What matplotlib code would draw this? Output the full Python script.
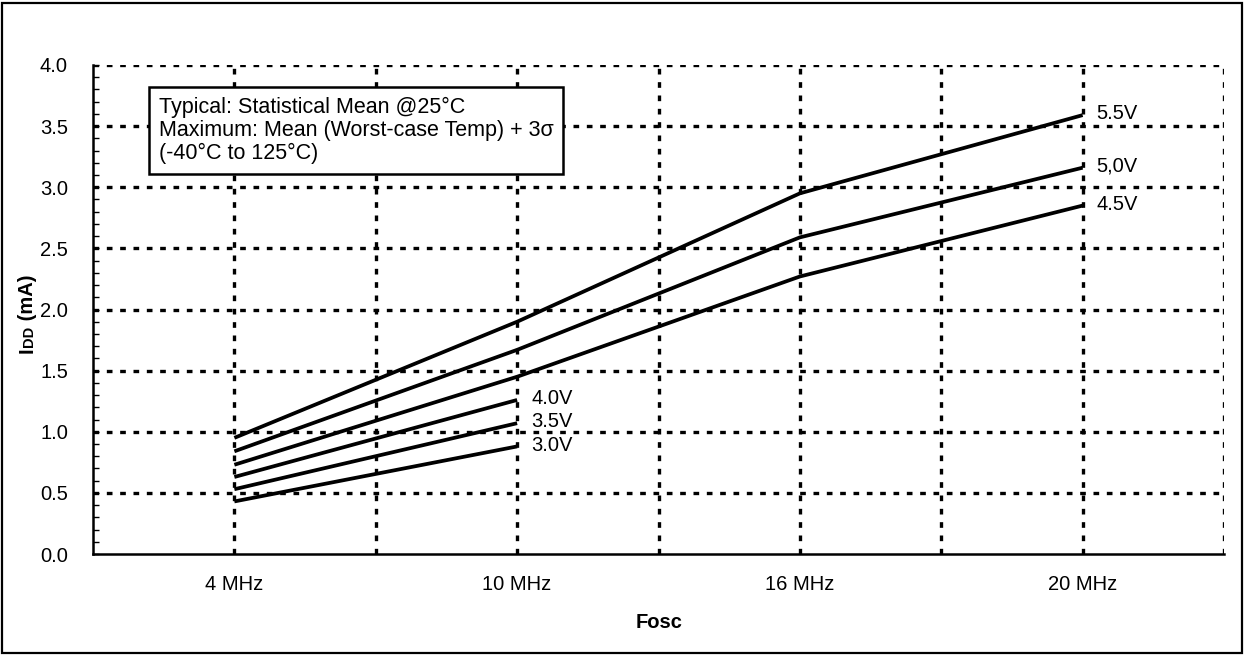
import matplotlib
matplotlib.use("Agg")
import matplotlib.pyplot as plt
from matplotlib.patches import Rectangle
from matplotlib.ticker import MultipleLocator

plt.rcParams['font.family'] = ['Liberation Sans', 'DejaVu Sans']

# datos
frecuencias = ["4 MHz", "10 MHz", "16 MHz", "20 MHz"]
curva_55 = [0.95, 1.90, 2.95, 3.59]
curva_50 = [0.84, 1.67, 2.59, 3.16]
curva_45 = [0.73, 1.45, 2.27, 2.85]
curva_40 = [0.63, 1.26]
curva_35 = [0.53, 1.07]
curva_30 = [0.43, 0.88]
etiquetas = ["5.5V", "5,0V", "4.5V", "4.0V", "3.5V", "3.0V"]
curvas = [curva_55, curva_50, curva_45, curva_40, curva_35, curva_30]

W, H = 1246, 656
fig = plt.figure(figsize=(W / 100, H / 100), dpi=100)
ax = fig.add_axes([93 / W, 102 / H, 1131 / W, 489 / H])

for curva, etiqueta in zip(curvas, etiquetas):
    xs = list(range(len(curva)))
    ax.plot(xs, curva, color='black', lw=2.7, solid_capstyle='butt')
    ax.annotate(etiqueta, (xs[-1], curva[-1]), xytext=(10, 1), textcoords='offset points',
                ha='left', va='center', fontsize=14.5)

ax.set_xlim(-0.5, 3.5)
ax.set_ylim(0, 4.0)
ax.set_xticks(range(len(frecuencias)))
ax.set_xticklabels(frecuencias, fontsize=14.5)
ax.yaxis.set_major_locator(MultipleLocator(0.5))
ax.yaxis.set_minor_locator(MultipleLocator(0.1))
ax.yaxis.set_major_formatter(matplotlib.ticker.FormatStrFormatter('%.1f'))
ax.tick_params(axis='y', which='both', direction='in', length=4, width=1, labelsize=14.5, pad=18)
ax.tick_params(axis='x', length=0, pad=15)

# rejilla punteada
estilo = dict(color='black', lw=2.4, ls=(0, (1.7, 2.3)), zorder=0)
for v in [0.5, 1.0, 1.5, 2.0, 2.5, 3.0, 3.5, 4.0]:
    ax.axhline(v, **estilo)
for v in [0, 0.5, 1, 1.5, 2, 2.5, 3, 3.5]:
    ax.axvline(v, **estilo)

ax.spines['top'].set_visible(False)
ax.spines['right'].set_visible(False)
ax.spines['left'].set_linewidth(1.8)
ax.spines['bottom'].set_linewidth(1.8)

fig.text(659 / W, 1 - 622 / H, "Fosc", fontsize=14.5, fontweight='bold', ha='center', va='center')

# etiqueta del eje y: "I" + "DD" en letra menor + " (mA)"
renderer = fig.canvas.get_renderer()
x0, y0 = 33 / W, 1 - 353 / H
partes = [("I", 14.5), ("DD", 10.5), (" (mA)", 14.5)]
for texto, tam in partes:
    t = fig.text(x0, y0, texto, fontsize=tam, fontweight='bold', rotation=90,
                 rotation_mode='anchor', ha='left', va='baseline')
    bb = t.get_window_extent(renderer=renderer)
    y0 += bb.height / H

ax.text(0.058, 0.935,
        "Typical: Statistical Mean @25°C\nMaximum: Mean (Worst-case Temp) + 3σ\n(-40°C to 125°C)",
        transform=ax.transAxes, fontsize=15.5, va='top', ha='left', linespacing=1.12,
        bbox=dict(boxstyle='square,pad=0.45', fc='white', ec='black', lw=1.8))

fig.patches.append(Rectangle((0.002, 0.004), 0.995, 0.992, transform=fig.transFigure,
                             fill=False, ec='black', lw=1.6))

fig.savefig("out.png", dpi=100)
